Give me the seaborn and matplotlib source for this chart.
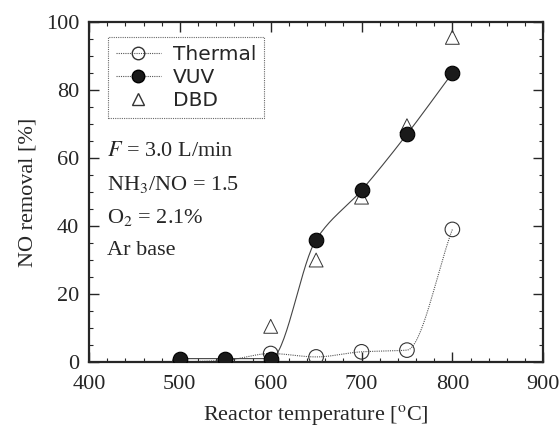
import numpy as np
import pandas as pd
import matplotlib
matplotlib.use('Agg')
import matplotlib.pyplot as plt
import seaborn as sns
from matplotlib.ticker import MultipleLocator

# Data
temps = [500, 550, 600, 650, 700, 750, 800]
thermal = [0.0, 0.5, 2.5, 1.5, 3.0, 3.5, 39.0]
vuv = [1.0, 1.0, 1.0, 36.0, 50.5, 67.0, 85.0]
dbd = [0.0, 0.5, 10.5, 30.0, 48.5, 69.5, 95.5]

df = pd.DataFrame({'T': temps * 3,
                   'removal': thermal + vuv + dbd,
                   'method': ['Thermal'] * 7 + ['VUV'] * 7 + ['DBD'] * 7})


def pchip(x, y, n=200):
    # monotone cubic curve through the points (for the guide lines)
    x = np.asarray(x, float)
    y = np.asarray(y, float)
    h = np.diff(x)
    d = np.diff(y) / h
    m = np.zeros_like(y)
    for k in range(1, len(x) - 1):
        if d[k - 1] * d[k] > 0:
            w1 = 2 * h[k] + h[k - 1]
            w2 = h[k] + 2 * h[k - 1]
            m[k] = (w1 + w2) / (w1 / d[k - 1] + w2 / d[k])
    m[0] = d[0]
    m[-1] = d[-1]
    xs = np.linspace(x[0], x[-1], n)
    idx = np.clip(np.searchsorted(x, xs) - 1, 0, len(h) - 1)
    t = (xs - x[idx]) / h[idx]
    h00 = 2 * t**3 - 3 * t**2 + 1
    h10 = t**3 - 2 * t**2 + t
    h01 = -2 * t**3 + 3 * t**2
    h11 = t**3 - t**2
    ys = h00 * y[idx] + h10 * h[idx] * m[idx] + h01 * y[idx + 1] + h11 * h[idx] * m[idx + 1]
    return xs, ys


sns.set_style('ticks')
plt.rcParams['font.family'] = ['Liberation Serif', 'DejaVu Serif']
plt.rcParams['mathtext.fontset'] = 'stix'

fig = plt.figure(figsize=(5.6, 4.32), dpi=100)
ax = fig.add_axes([0.159, 0.162, 0.811, 0.787])

# guide curves
xs, ys = pchip(temps, thermal)
ax.plot(xs, ys, color='#555555', lw=0.8, ls=(0, (1, 1)), zorder=1)
xs, ys = pchip(temps, vuv)
ax.plot(xs, ys, color='#444444', lw=0.8, zorder=1)

sub = df[df.method == 'Thermal']
sns.scatterplot(data=sub, x='T', y='removal', ax=ax, marker='o', s=110,
                facecolor='none', edgecolor='#333333', linewidth=0.8, zorder=3)
sub = df[df.method == 'VUV']
sns.scatterplot(data=sub, x='T', y='removal', ax=ax, marker='o', s=110,
                color='#1a1a1a', edgecolor='black', linewidth=0.8, zorder=4)
sub = df[df.method == 'DBD']
sns.scatterplot(data=sub, x='T', y='removal', ax=ax, marker='^', s=100,
                facecolor='none', edgecolor='#333333', linewidth=0.7, zorder=2)

ax.set_xlim(400, 900)
ax.set_ylim(0, 100)
ax.xaxis.set_major_locator(MultipleLocator(100))
ax.xaxis.set_minor_locator(MultipleLocator(20))
ax.yaxis.set_major_locator(MultipleLocator(20))
ax.yaxis.set_minor_locator(MultipleLocator(5))
ax.tick_params(which='both', direction='in', top=True, right=True, labelsize=16)
ax.tick_params(which='major', length=7, width=1)
ax.tick_params(which='minor', length=3, width=0.8)
ax.tick_params(axis='x', which='major', pad=9)
ax.tick_params(axis='y', which='major', pad=7)
for sp in ax.spines.values():
    sp.set_linewidth(1.6)

ax.set_xlabel('Reactor temperature [$^{\\mathrm{o}}$C]', fontsize=16, labelpad=7)
ax.set_ylabel('NO removal [%]', fontsize=16, labelpad=6)

# legend
h1, = ax.plot([], [], color='#555555', lw=0.8, ls=(0, (1, 1)), marker='o',
              ms=9, mfc='none', mec='#333333', label='Thermal')
h2, = ax.plot([], [], color='#555555', lw=0.8, ls=(0, (1, 1)), marker='o',
              ms=9, mfc='#1a1a1a', mec='black', label='VUV')
h3, = ax.plot([], [], ls='none', marker='^', ms=8, mfc='none', mec='#333333',
              label='DBD')
leg = ax.legend(handles=[h1, h2, h3], loc='upper left',
                bbox_to_anchor=(0.02, 0.985), frameon=True, fancybox=False,
                prop={'family': ['DejaVu Sans'], 'size': 14.5},
                handlelength=2.2, borderpad=0.4, labelspacing=0.2,
                handletextpad=0.6)
leg.get_frame().set_edgecolor('#444444')
leg.get_frame().set_linestyle((0, (1, 1)))
leg.get_frame().set_linewidth(0.8)

notes = ['$F$ = 3.0 L/min', 'NH$_3$/NO = 1.5', 'O$_2$ = 2.1%', 'Ar base']
for i, t in enumerate(notes):
    ax.text(0.04, 0.62 - i * 0.097, t, transform=ax.transAxes, fontsize=16,
            va='center', ha='left')

fig.savefig('out.png', dpi=100)
